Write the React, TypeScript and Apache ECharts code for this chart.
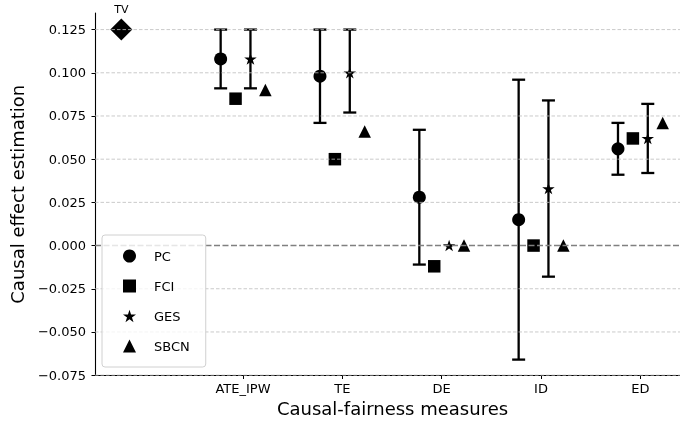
import React, { useEffect, useRef } from 'react';
import * as echarts from 'echarts';

const categories = ['ATE_IPW', 'TE', 'DE', 'ID', 'ED'];
const methods = ['PC', 'FCI', 'GES', 'SBCN'];
const methodOffsets = [-0.225, -0.075, 0.075, 0.225];
const pcValues = [0.108, 0.098, 0.028, 0.015, 0.056];
const fciValues = [0.085, 0.05, -0.012, 0.0, 0.062];
const gesValues = [0.108, 0.1, 0.0, 0.033, 0.062];
const sbcnValues = [0.09, 0.066, 0.0, 0.0, 0.071];
const pcLow = [0.091, 0.071, -0.011, -0.066, 0.041];
const pcHigh = [0.125, 0.125, 0.067, 0.096, 0.071];
const gesLow: (number | null)[] = [0.091, 0.077, null, -0.018, 0.042];
const gesHigh: (number | null)[] = [0.125, 0.125, null, 0.084, 0.082];
const tvLabel = 'TV';
const tvValue = 0.125;
const yTicks = [-0.075, -0.05, -0.025, 0, 0.025, 0.05, 0.075, 0.1, 0.125];
const xTicks = [1, 2, 3, 4, 5];

const FONT = "'DejaVu Sans', sans-serif";
const STAR =
  'path://M0,-1L0.2245,-0.309L0.9511,-0.309L0.3633,0.118L0.5878,0.809L0,0.382L-0.5878,0.809L-0.3633,0.118L-0.9511,-0.309L-0.2245,-0.309Z';

const symbols = ['circle', 'rect', STAR, 'triangle'];
const symbolSizes: any[] = [13, 12.5, [12.5, 12], 12.5];
const valueSets = [pcValues, fciValues, gesValues, sbcnValues];

function fmt(v: number) {
  const s = Math.abs(v).toFixed(3);
  return v < 0 ? '\u2212' + s : s;
}

export default function App() {
  const ref = useRef<HTMLDivElement>(null);
  useEffect(() => {
    if (!ref.current) return;
    const chart = echarts.init(ref.current, undefined, { renderer: 'svg' });

    const errData: number[][] = [];
    categories.forEach((_, i) => {
      errData.push([i + 1 + methodOffsets[0], pcLow[i], pcHigh[i]]);
      if (gesLow[i] !== null && gesHigh[i] !== null) {
        errData.push([i + 1 + methodOffsets[2], gesLow[i] as number, gesHigh[i] as number]);
      }
    });

    const methodSeries = methods.map((m, k) => ({
      name: m,
      type: 'scatter',
      symbol: symbols[k],
      symbolSize: symbolSizes[k],
      symbolKeepAspect: true,
      itemStyle: { color: '#000', opacity: 1 },
      z: 2,
      data: valueSets[k].map((v, i) => [i + 1 + methodOffsets[k], v]),
    }));

    const option: any = {
      animation: false,
      grid: {
        left: 95,
        width: 595,
        top: 13,
        height: 362.5,
        containLabel: false,
        outerBoundsMode: 'none',
      },
      xAxis: {
        type: 'value',
        min: -0.49,
        max: 5.5,
        name: 'Causal-fairness measures',
        nameLocation: 'middle',
        nameGap: 24,
        nameTextStyle: { fontFamily: FONT, fontSize: 18, color: '#000' },
        axisLine: { show: true, onZero: false, lineStyle: { color: '#000', width: 1.1 } },
        axisTick: { show: true, length: 3.5, lineStyle: { color: '#000', width: 1 }, customValues: xTicks },
        axisLabel: {
          customValues: xTicks,
          margin: 6,
          fontFamily: FONT,
          fontSize: 13,
          color: '#000',
          formatter: (v: number) => categories[Math.round(v) - 1] ?? '',
        },
        splitLine: { show: false },
      },
      yAxis: {
        type: 'value',
        min: -0.0752,
        max: 0.1346,
        name: 'Causal effect estimation',
        nameLocation: 'middle',
        nameGap: 61,
        nameTextStyle: { fontFamily: FONT, fontSize: 18, color: '#000' },
        axisLine: { show: true, onZero: false, lineStyle: { color: '#000', width: 1.1 } },
        axisTick: { show: true, length: 3.5, lineStyle: { color: '#000', width: 1 }, customValues: yTicks },
        axisLabel: {
          customValues: yTicks,
          margin: 9,
          fontFamily: FONT,
          fontSize: 13,
          color: '#000',
          formatter: (v: number) => fmt(v),
        },
        splitLine: { show: false },
      },
      legend: {
        data: methods,
        orient: 'vertical',
        left: 102,
        top: 235,
        padding: [14, 16, 14, 21],
        itemWidth: 13,
        itemHeight: 13,
        itemGap: 16,
        backgroundColor: 'rgba(255,255,255,0.8)',
        borderColor: '#d0d0d0',
        borderWidth: 1,
        borderRadius: 3,
        z: 10,
        textStyle: { fontFamily: FONT, fontSize: 13, color: '#000', lineHeight: 14, padding: [0, 0, 0, 13] },
      },
      series: [
        {
          name: 'errorbars',
          type: 'custom',
          z: 1,
          silent: true,
          encode: { x: 0, y: [1, 2] },
          data: errData,
          renderItem: (params: any, api: any) => {
            const x = api.value(0);
            const lo = api.coord([x, api.value(1)]);
            const hi = api.coord([x, api.value(2)]);
            const cw = 6.5;
            const st = { stroke: '#000', lineWidth: 2.3 };
            return {
              type: 'group',
              children: [
                { type: 'line', shape: { x1: lo[0], y1: lo[1], x2: hi[0], y2: hi[1] }, style: st },
                { type: 'line', shape: { x1: lo[0] - cw, y1: lo[1], x2: lo[0] + cw, y2: lo[1] }, style: st },
                { type: 'line', shape: { x1: hi[0] - cw, y1: hi[1], x2: hi[0] + cw, y2: hi[1] }, style: st },
              ],
            };
          },
        },
        ...methodSeries,
        {
          name: tvLabel,
          type: 'scatter',
          symbol: 'diamond',
          symbolSize: [22, 22],
          itemStyle: { color: '#000', opacity: 1 },
          z: 2,
          label: {
            show: true,
            position: 'top',
            distance: 4,
            formatter: tvLabel,
            fontFamily: FONT,
            fontSize: 11,
            color: '#000',
          },
          data: [[0 + methodOffsets[0], tvValue]],
        },
        {
          name: 'gridlines',
          type: 'custom',
          z: 3,
          silent: true,
          encode: { x: 0, y: 1 },
          data: yTicks.map((v) => [0, v]),
          renderItem: (params: any, api: any) => {
            const v = api.value(1);
            const y = api.coord([0, v])[1];
            const cs = params.coordSys;
            const isZero = Math.abs(v) < 1e-9;
            return {
              type: 'line',
              shape: { x1: cs.x, y1: y, x2: cs.x + cs.width, y2: y },
              style: isZero
                ? { stroke: '#808080', lineWidth: 1.5, lineDash: [6, 2.5] }
                : { stroke: '#bdbdbd', lineWidth: 0.8, lineDash: [3.5, 2] },
            };
          },
        },
      ],
    };
    chart.setOption(option);
    return () => chart.dispose();
  }, []);
  return <div ref={ref} style={{ position: 'fixed', left: 0, top: 0, width: 680, height: 423 }} />;
}
